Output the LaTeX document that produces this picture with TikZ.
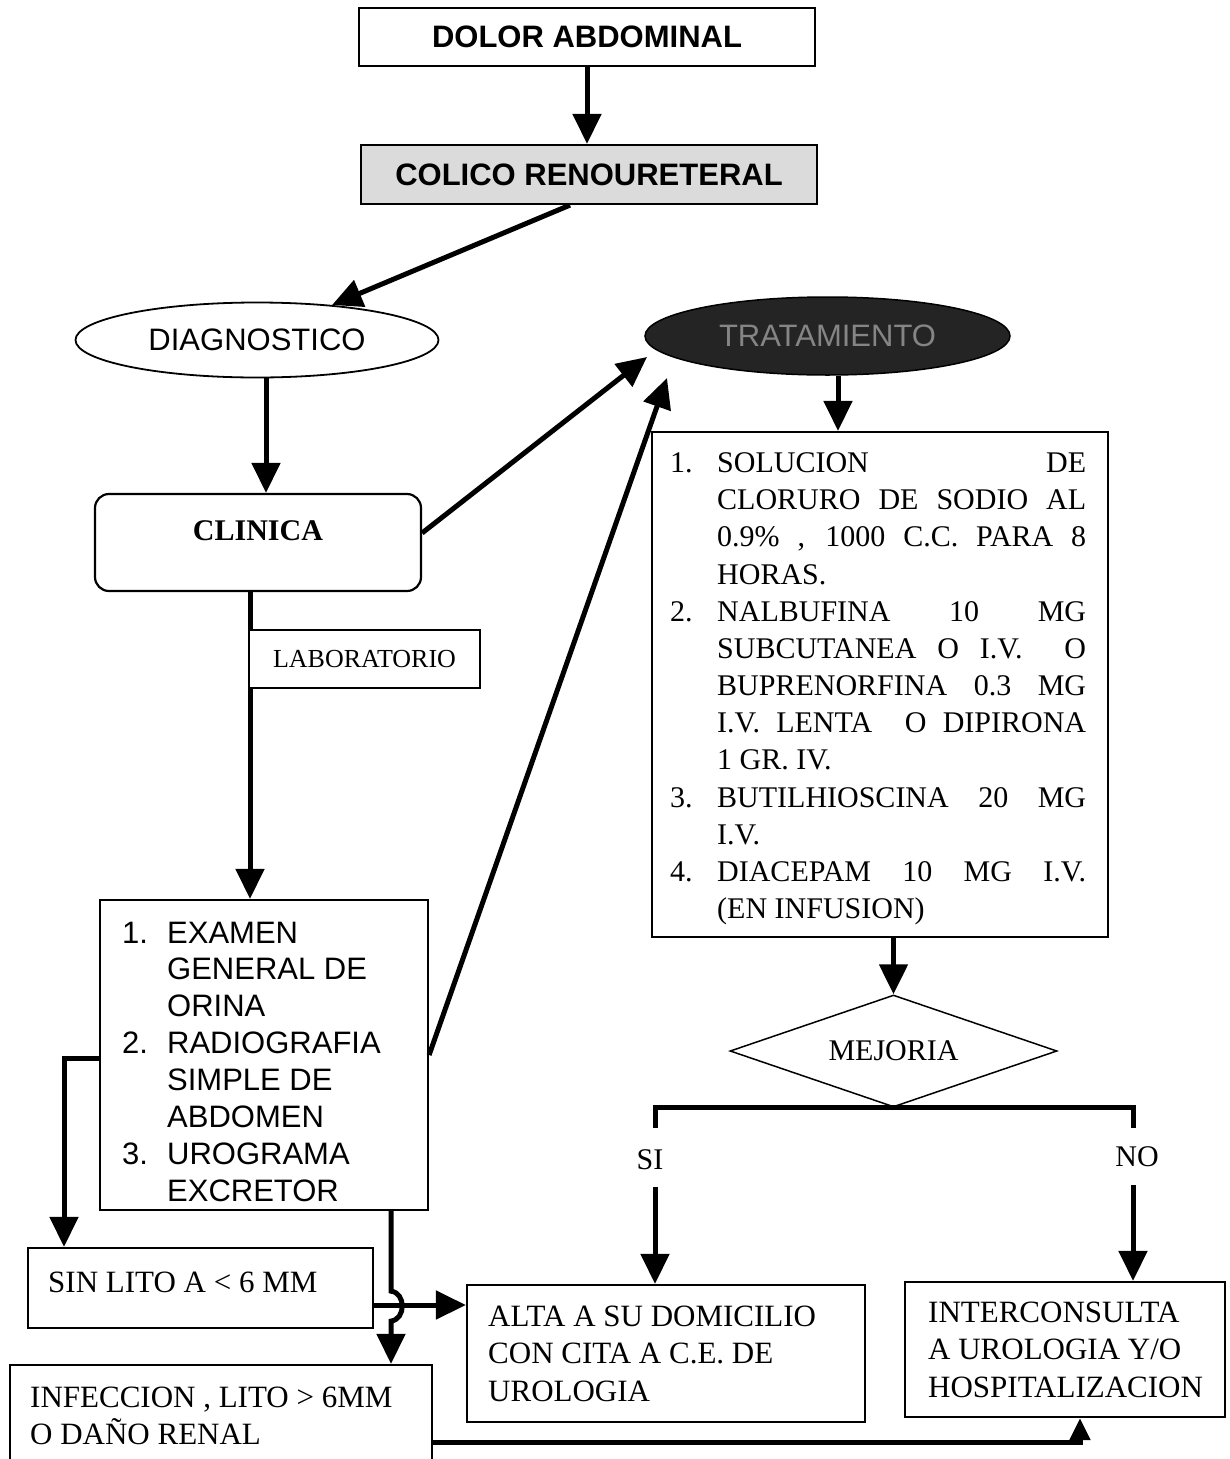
\documentclass[tikz,border=0pt]{standalone}
\usepackage{fontspec}
\setmainfont{Liberation Serif}
\setsansfont{Liberation Sans}
\usetikzlibrary{arrows.meta,shapes.geometric,calc}

% justified line of the treatment list and its item label
\newcommand\jl[1]{\makebox[369pt][s]{#1}}
\newcommand\itm[1]{\makebox[47pt][l]{#1}}
\newcommand\eitm[1]{\makebox[45pt][l]{#1}}

\tikzset{
  box/.style={draw, line width=2.2pt, rectangle, inner sep=0pt},
  conn/.style={line width=5pt},
  arr/.style={conn, -{Triangle[length=30pt,width=28pt]}},
  sarr/.style={conn, -{Triangle[length=22pt,width=20pt]}},
  hsans/.style={font={\fontsize{31}{37}\selectfont\sffamily\bfseries}},
  sans/.style={font={\fontsize{31}{36.9}\selectfont\sffamily}},
  serif/.style={font={\fontsize{31}{37.5}\selectfont}},
  tserif/.style={font={\fontsize{30}{37.17}\selectfont}},
  txt/.style={anchor=base west, inner sep=0pt},
}

\begin{document}
\begin{tikzpicture}[x=1pt,y=-1pt]
\useasboundingbox (0,0) rectangle (1230,1459);
\clip (0,0) rectangle (1230,1459);
\fill[white] (0,0) rectangle (1230,1459);

% header boxes
\node[box, hsans, minimum width=456pt, minimum height=58pt] (dolor) at (587,37) {DOLOR ABDOMINAL};
\node[box, hsans, fill=black!14, minimum width=456pt, minimum height=59pt] (colico) at (589,174.5) {COLICO RENOURETERAL};

% the two branches
\node[draw, line width=1.8pt, ellipse, inner sep=0pt, minimum width=363pt, minimum height=75pt,
      font={\fontsize{31}{37}\selectfont\sffamily}] (diag) at (257,340) {DIAGNOSTICO};
\node[draw, line width=1.5pt, ellipse, inner sep=0pt, fill=black!86, text=black!48,
      minimum width=365pt, minimum height=78pt,
      font={\fontsize{31}{37}\selectfont\sffamily}] (trat) at (827.5,336) {TRATAMIENTO};

% diagnosis column
\node[box, rounded corners=14pt, minimum width=326pt, minimum height=97pt] (clinica) at (258,542.5) {};
\node[inner sep=0pt, font={\fontsize{30}{36}\selectfont\bfseries}] (clinicat) at (258,531) {CLINICA};

\node[box, minimum width=328pt, minimum height=310pt] (exam) at (264,1055) {};
\node[txt, sans] (examt) at (122,943) {\begin{tabular}[t]{@{}l@{}}
\eitm{1.}EXAMEN\\
\eitm{}GENERAL DE\\
\eitm{}ORINA\\
\eitm{2.}RADIOGRAFIA\\
\eitm{}SIMPLE DE\\
\eitm{}ABDOMEN\\
\eitm{3.}UROGRAMA\\
\eitm{}EXCRETOR
\end{tabular}};

% treatment column
\node[box, minimum width=456pt, minimum height=505pt] (trtbox) at (880,684.5) {};
\node[txt, tserif] (trtt) at (670,472.5) {\begin{tabular}[t]{@{}l@{}}
\itm{1.}\jl{SOLUCION DE}\\
\itm{}\jl{CLORURO DE SODIO AL}\\
\itm{}\jl{0.9\% , 1000 C.C. PARA 8}\\
\itm{}HORAS.\\
\itm{2.}\jl{NALBUFINA 10 MG}\\
\itm{}\jl{SUBCUTANEA O I.V.\ \ O}\\
\itm{}\jl{BUPRENORFINA 0.3 MG}\\
\itm{}\jl{I.V. LENTA\ \ O DIPIRONA}\\
\itm{}1 GR. IV.\\
\itm{3.}\jl{BUTILHIOSCINA 20 MG}\\
\itm{}I.V.\\
\itm{4.}\jl{DIACEPAM 10 MG I.V.}\\
\itm{}(EN INFUSION)
\end{tabular}};

\node[draw, line width=1.5pt, diamond, aspect=2.9, inner sep=0pt, minimum width=327pt, minimum height=112pt,
      font={\fontsize{30}{36}\selectfont}] (mej) at (893.5,1051) {MEJORIA};

% outcome boxes
\node[box, minimum width=345pt, minimum height=80pt] (sinlito) at (200.5,1288) {};
\node[txt, serif] (sinlitot) at (48,1292) {SIN LITO A < 6 MM};

\node[box, minimum width=422pt, minimum height=115pt] (infec) at (221,1422.5) {};
\node[txt, serif] (infect) at (30,1407) {\begin{tabular}[t]{@{}l@{}}
INFECCION , LITO > 6MM\\
O DAÑO RENAL
\end{tabular}};

\node[box, minimum width=398pt, minimum height=137pt] (alta) at (666,1353.5) {};
\node[txt, serif] (altat) at (488,1326) {\begin{tabular}[t]{@{}l@{}}
ALTA A SU DOMICILIO\\
CON CITA A C.E. DE\\
UROLOGIA
\end{tabular}};

\node[box, minimum width=320pt, minimum height=135pt] (inter) at (1065,1349.5) {};
\node[txt, serif] (intert) at (928,1322) {\begin{tabular}[t]{@{}l@{}}
INTERCONSULTA\\
A UROLOGIA Y/O\\
HOSPITALIZACION
\end{tabular}};

% connectors
\draw[arr] (dolor.south) -- (dolor.south |- colico.north);
\draw[arr] ([xshift=-19pt]colico.south) -- (diag.25);
\draw[arr] ([xshift=9pt]diag.south) -- ([xshift=9pt]diag.south |- clinica.north);
\draw[arr] ([yshift=9.5pt]clinica.east) -- ([xshift=-180.5pt,yshift=-21pt]trat.center);
\draw[arr] (exam.east) -- ([xshift=-160.5pt,yshift=-42pt]trat.center);
\draw[arr] ([xshift=10.5pt]trat.south) -- ([xshift=10.5pt]trat.south |- trtbox.north);

\draw[arr] ([xshift=-8pt]clinica.south) -- ([xshift=-8pt]clinica.south |- exam.north);
\node[box, minimum width=231pt, minimum height=58pt, fill=white,
      font={\fontsize{26}{31}\selectfont}] (lab) at (364.5,659) {LABORATORIO};

\draw[arr] ([yshift=-3pt]exam.west) -| ([xshift=-136.5pt]sinlito.north);
\draw[arr] ([xshift=127pt]exam.south) -- ++(0,80)
   .. controls +(15,2) and +(15,-2) .. ++(0,30)
   -- ([xshift=170pt]infec.north);
\draw[arr] ([yshift=-17pt]sinlito.east) -- ([yshift=-17pt]sinlito.east -| alta.west);
\draw[sarr] ([yshift=-19.5pt]infec.east) -| ([xshift=15pt]inter.south);

\draw[arr] (mej.north |- trtbox.south) -- (mej.north);
\coordinate (sistub) at (655,1128);
\coordinate (nostub) at (1133,1128);
\draw[conn] (sistub) |- (mej.south) -| (nostub);
\node[inner sep=0pt, font={\fontsize{30}{36}\selectfont}] (si) at (650,1160) {SI};
\node[inner sep=0pt, font={\fontsize{30}{36}\selectfont}] (no) at (1137,1157) {NO};
\coordinate (sistart) at (655,1187);
\coordinate (nostart) at (1133,1185);
\draw[arr] (sistart) -- (sistart |- alta.north);
\draw[arr] (nostart) -- (nostart |- inter.north);
\end{tikzpicture}
\end{document}
